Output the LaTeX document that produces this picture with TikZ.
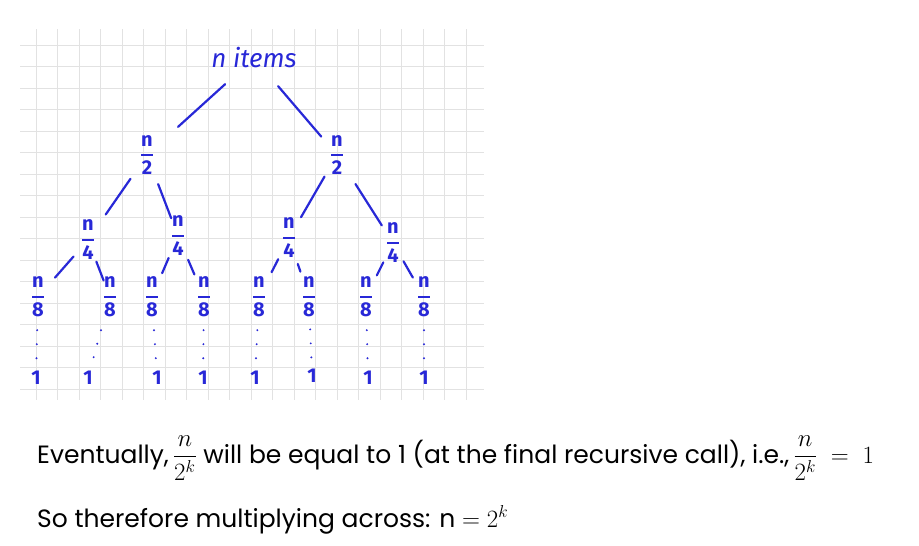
\documentclass[tikz,border=0pt]{standalone}
\usepackage{amsmath}
\usepackage{fontspec}
\setmainfont{Poppins}
\newfontfamily\hand{Fira Sans}
\usetikzlibrary{calc}
\definecolor{ink}{RGB}{40,40,215}
\definecolor{gridc}{RGB}{226,226,226}
\newcommand{\hf}[1]{\(\displaystyle\genfrac{}{}{1.8pt}{0}{\text{\hand n}}{\text{\hand #1}}\)}
\newcommand{\seg}[4]{\draw[edge] ($(#1)!#3!(#2)$) -- ($(#1)!#4!(#2)$);}
\newcommand{\dotseg}[2]{\draw[dotline] ($(#1)!0.41!(#2)$) -- ($(#1)!0.82!(#2)$);}
\tikzset{
  hnode/.style={text=ink, inner sep=0pt, font=\hand\fontseries{sb}\fontsize{20}{20}\selectfont},
  edge/.style={draw=ink, line width=2.2pt, line cap=round},
  dotline/.style={draw=ink, line width=2.2pt, line cap=round, dash pattern=on 0pt off 14pt},
  gridline/.style={draw=gridc, line width=0.8pt},
  caption/.style={anchor=base west, inner sep=0pt, font=\fontsize{25}{30}\selectfont}
}
\begin{document}
\begin{tikzpicture}[x=1pt,y=-1pt]
\fill[white] (0,0) rectangle (919,546);
\useasboundingbox (0,0) rectangle (919,546);
% grid
\foreach \i in {0,...,20} \draw[gridline] ({36+21.5*\i},29) -- ({36+21.5*\i},400);
\foreach \j in {0,...,16} \draw[gridline] (20,{45+21.5*\j}) -- (484,{45+21.5*\j});
% nodes
\node[hnode, font=\hand\itshape\fontsize{26}{26}\selectfont] (root) at (254,58) {n items};
\node[hnode] (l2a) at (147,155) {\hf{2}};
\node[hnode] (l2b) at (337,155) {\hf{2}};
\node[hnode] (l4a) at (88,240) {\hf{4}};
\node[hnode] (l4b) at (178,236) {\hf{4}};
\node[hnode] (l4c) at (289,238) {\hf{4}};
\node[hnode] (l4d) at (393,243) {\hf{4}};
\node[hnode] (l8a) at (38,297) {\hf{8}};
\node[hnode] (l8b) at (110,297) {\hf{8}};
\node[hnode] (l8c) at (152,297) {\hf{8}};
\node[hnode] (l8d) at (204,297) {\hf{8}};
\node[hnode] (l8e) at (259,297) {\hf{8}};
\node[hnode] (l8f) at (309,297) {\hf{8}};
\node[hnode] (l8g) at (366,297) {\hf{8}};
\node[hnode] (l8h) at (424,297) {\hf{8}};
\node[hnode] (o1) at (36,378) {1};
\node[hnode] (o2) at (88,378) {1};
\node[hnode] (o3) at (157,378) {1};
\node[hnode] (o4) at (203,378) {1};
\node[hnode] (o5) at (255,378) {1};
\node[hnode] (o6) at (312,376) {1};
\node[hnode] (o7) at (368,378) {1};
\node[hnode] (o8) at (424,378) {1};
% edges
\seg{root}{l2a}{0.27}{0.71}
\seg{root}{l2b}{0.29}{0.81}
\seg{l2a}{l4a}{0.28}{0.70}
\seg{l2a}{l4b}{0.36}{0.78}
\seg{l2b}{l4c}{0.26}{0.75}
\seg{l2b}{l4d}{0.33}{0.80}
\seg{l4a}{l8a}{0.29}{0.66}
\seg{l4a}{l8b}{0.38}{0.71}
\seg{l4b}{l8c}{0.36}{0.61}
\seg{l4b}{l8d}{0.39}{0.63}
\seg{l4c}{l8e}{0.36}{0.58}
\seg{l4c}{l8f}{0.44}{0.57}
\seg{l4d}{l8g}{0.36}{0.60}
\seg{l4d}{l8h}{0.34}{0.64}
% dots
\dotseg{l8a}{o1}
\dotseg{l8b}{o2}
\dotseg{l8c}{o3}
\dotseg{l8d}{o4}
\dotseg{l8e}{o5}
\dotseg{l8f}{o6}
\dotseg{l8g}{o7}
\dotseg{l8h}{o8}
% captions
\node[caption] (t1) at (37,463) {Eventually,\,\(\dfrac{n}{2^k}\) will be equal to 1 (at the final recursive call), i.e.,\,\(\dfrac{n}{2^k} \;=\; 1\)};
\node[caption] (t2) at (37,527) {So therefore multiplying across: n \(= 2^k\)};
\end{tikzpicture}
\end{document}
